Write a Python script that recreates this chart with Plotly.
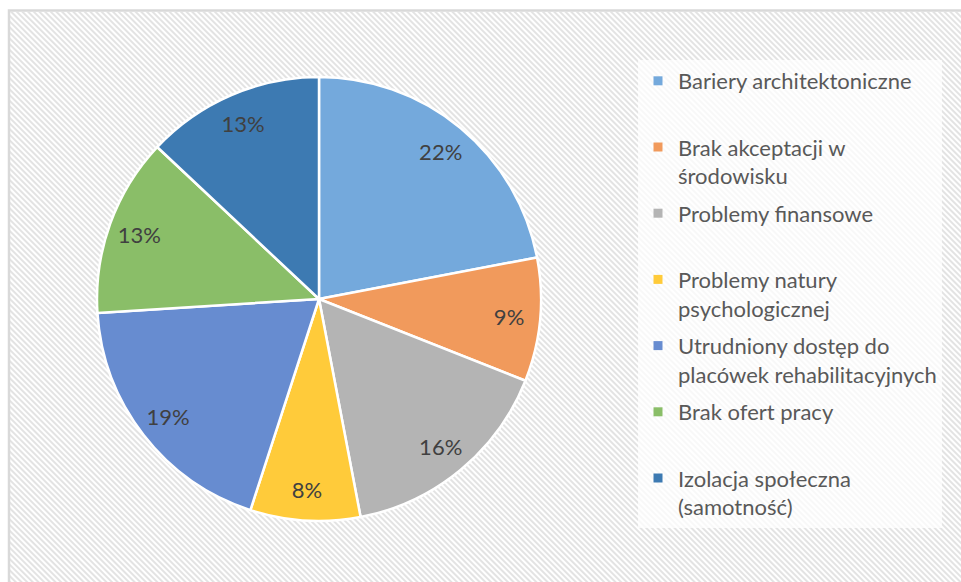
import base64
import plotly.graph_objects as go

W, H = 961, 582

categories = [
    "Bariery architektoniczne",
    "Brak akceptacji w<br>środowisku",
    "Problemy finansowe",
    "Problemy natury<br>psychologicznej",
    "Utrudniony dostęp do<br>placówek rehabilitacyjnych",
    "Brak ofert pracy",
    "Izolacja społeczna<br>(samotność)",
]
shares = [22, 9, 16, 8, 19, 13, 13]
colors = ["#74A9DC", "#F19A5C", "#B4B4B4", "#FFCB3A", "#678CD0", "#8ABE68", "#3D7AB2"]

FONT = "Lato"

# hatched chart-area background as an svg image
bw, bh = W - 10, H - 12
svg = (
    f'<svg xmlns="http://www.w3.org/2000/svg" width="{bw}" height="{bh}">'
    '<defs><pattern id="d" width="4" height="4" patternUnits="userSpaceOnUse" '
    'patternTransform="rotate(-45)"><rect width="2" height="4" fill="#e3e3e3"/></pattern></defs>'
    '<rect width="100%" height="100%" fill="#ffffff"/>'
    '<rect width="100%" height="100%" fill="url(#d)"/></svg>'
)
bg_src = "data:image/svg+xml;base64," + base64.b64encode(svg.encode()).decode()

dom_x = [97 / W, 541 / W]
dom_y = [(H - 521) / H, (H - 77) / H]

fig = go.Figure()

fig.add_trace(go.Pie(
    labels=categories,
    values=shares,
    sort=False,
    direction="clockwise",
    rotation=0,
    marker=dict(colors=colors, line=dict(color="white", width=2.5)),
    textinfo="none",
    showlegend=False,
    domain=dict(x=dom_x, y=dom_y),
))

# transparent ring carrying the percentage labels near the rim
fig.add_trace(go.Pie(
    labels=categories,
    values=shares,
    sort=False,
    direction="clockwise",
    rotation=0,
    hole=0.72,
    marker=dict(colors=["rgba(0,0,0,0)"] * len(shares), line=dict(width=0)),
    textinfo="percent",
    texttemplate="%{percent:.0%}",
    textposition="inside",
    insidetextorientation="horizontal",
    textfont=dict(family=FONT, size=22, color="#404040"),
    hoverinfo="skip",
    showlegend=False,
    domain=dict(x=dom_x, y=dom_y),
))

# legend entries
for name, c in zip(categories, colors):
    label = name if "<br>" in name else name + "<br> "
    fig.add_trace(go.Scatter(
        x=[None], y=[None], mode="markers", name=label, legendgroup=name,
        marker=dict(symbol="square", size=9, color=c, line=dict(width=0)),
    ))

fig.update_layout(
    width=W, height=H,
    margin=dict(l=0, r=0, t=0, b=0, pad=0),
    paper_bgcolor="white",
    plot_bgcolor="rgba(0,0,0,0)",
    xaxis=dict(visible=False),
    yaxis=dict(visible=False),
    font=dict(family=FONT, color="#595959"),
    images=[dict(
        source=bg_src, xref="paper", yref="paper",
        x=10 / W, y=1 - 12 / H, sizex=bw / W, sizey=bh / H,
        xanchor="left", yanchor="top", sizing="stretch", layer="below",
    )],
    shapes=[dict(
        type="rect", xref="paper", yref="paper",
        x0=9 / W, x1=1.02, y0=-0.02, y1=1 - 10.5 / H,
        line=dict(color="#d9d9d9", width=2.5), layer="below",
    )],
    legend=dict(
        x=638 / W, y=1 - 60 / H, xanchor="left", yanchor="top",
        bgcolor="rgba(255,255,255,0.75)", borderwidth=0,
        font=dict(family=FONT, size=22, color="#595959"),
        valign="top", tracegroupgap=6,
        itemwidth=30, entrywidth=332,
    ),
)

fig.write_html(
    "out.html",
    config={"displayModeBar": False},
    post_script="document.body.style.margin='0';document.body.style.overflow='hidden';",
)
